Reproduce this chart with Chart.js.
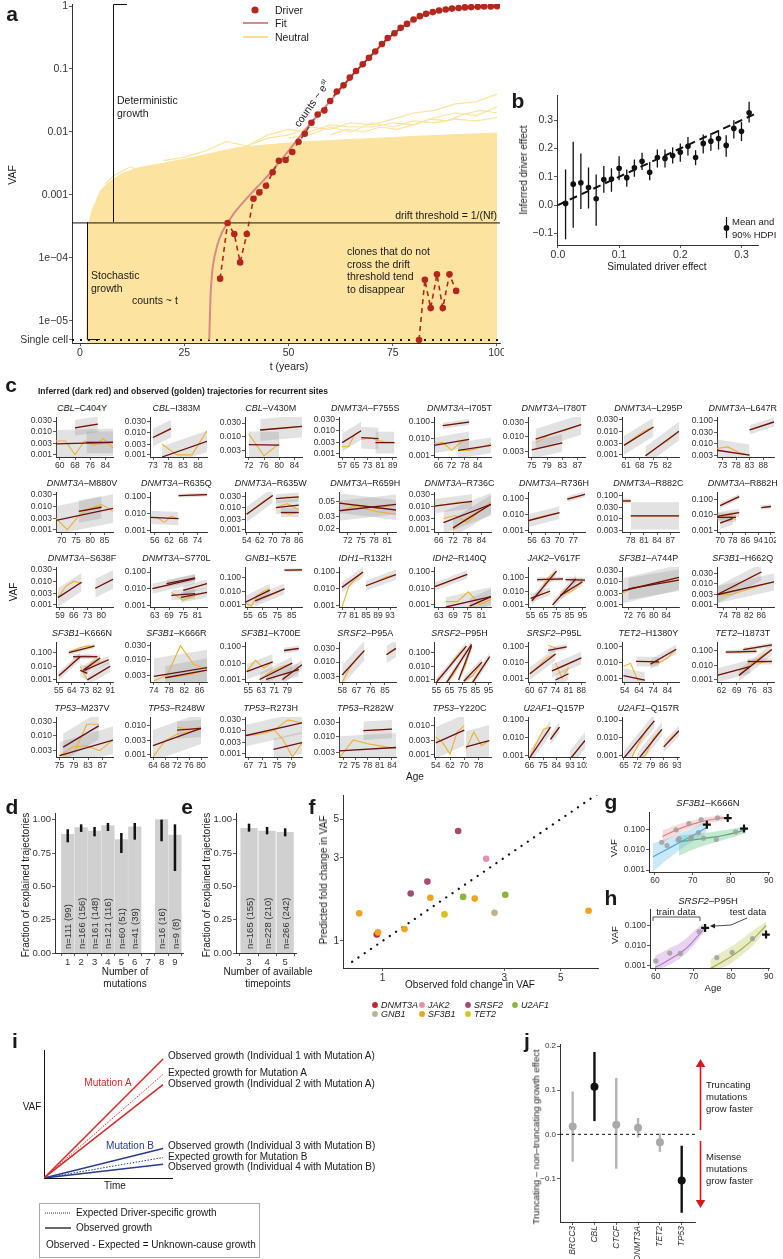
<!DOCTYPE html>
<html>
<head>
<meta charset="utf-8">
<script src="https://cdn.jsdelivr.net/npm/chart.js@4.4.1/dist/chart.umd.min.js"></script>
<style>
  body { margin: 0; width: 783px; height: 1259px; position: relative; overflow: hidden; background: #fff;
         font-family: "Liberation Sans", Arial, Helvetica, sans-serif; color: #1a1a1a; }
  canvas { position: absolute; }
  .t { position: absolute; white-space: nowrap; line-height: 1; }
</style>
</head>
<body>
<script>
const FONT = '"Liberation Sans", Arial, Helvetica, sans-serif';
Chart.defaults.font.family = FONT;
Chart.defaults.color = '#333';

// ---------- a: simulated trajectories ----------
const aTicks = [5e-6, 1e-5, 1e-4, 1e-3, 0.01, 0.1, 1];
const aTickLabels = ['Single cell', '1e\u221205', '1e\u221204', '0.001', '0.01', '0.1', '1'];
const aSingleCell = 5e-6;
const aDrift = 3.6e-4;
const aDriverT = [33.6, 35.4, 37.0, 38.4, 40.0, 41.6, 43.0, 44.6, 46.2, 47.7, 49.3, 50.9, 52.4, 53.9, 55.5, 57.0, 58.6, 60.0, 61.6, 63.2, 64.7, 66.2, 67.8, 69.3, 70.8, 72.4, 73.8, 75.4, 76.9, 78.4, 80.0, 81.5, 83.0, 84.6, 86.1, 87.7, 89.2, 90.8, 92.3, 93.8, 95.4, 96.9, 98.5, 100];
const aDriverV = [4.7e-5, 3.6e-4, 2.4e-4, 8.5e-5, 2.4e-4, 8.7e-4, 1.1e-3, 1.4e-3, 2.3e-3, 3.5e-3, 3.6e-3, 4.8e-3, 7e-3, 9.4e-3, 0.014, 0.019, 0.022, 0.031, 0.044, 0.055, 0.073, 0.093, 0.119, 0.151, 0.19, 0.25, 0.31, 0.37, 0.45, 0.52, 0.61, 0.69, 0.75, 0.80, 0.85, 0.88, 0.91, 0.93, 0.95, 0.96, 0.97, 0.98, 0.985, 0.99];
const aFitT = [31.0, 31.1, 31.3, 31.6, 32, 33, 34, 35.4, 37, 39, 41, 43, 45, 50, 55, 60, 65, 70, 75, 80, 85, 90, 95, 100];
const aFitV = [5e-6, 9e-6, 2.5e-5, 5e-5, 8.5e-5, 1.65e-4, 2.5e-4, 3.6e-4, 5.2e-4, 7.5e-4, 1.05e-3, 1.45e-3, 2.0e-3, 5e-3, 0.013, 0.031, 0.075, 0.17, 0.35, 0.6, 0.8, 0.91, 0.96, 0.985];
const aLostT = [81.3, 82.7, 84.1, 85.6, 87.0, 88.6, 90.2];
const aLostV = [5e-6, 4.5e-5, 1.6e-5, 5.5e-5, 1.6e-5, 5.5e-5, 3e-5];
const aNeutT = [1.6, 1.8, 3, 5, 7, 10, 14, 19, 24, 29, 34, 38, 43, 48, 53, 58, 63, 67, 72, 77, 82, 87, 92, 96, 100];
const aNeutV = [5e-6, 3.0e-4, 6e-4, 1.2e-3, 1.6e-3, 2.2e-3, 2.7e-3, 3.1e-3, 3.6e-3, 4.2e-3, 5e-3, 5.7e-3, 6.1e-3, 6.5e-3, 6.9e-3, 7.2e-3, 7.5e-3, 7.7e-3, 8.0e-3, 8.3e-3, 8.6e-3, 8.9e-3, 9.2e-3, 9.4e-3, 9.6e-3];
const aNeutLineT = [
  [40, 45, 50, 55, 60, 65, 70, 75, 80, 85, 90, 95, 100],
  [20, 25, 30, 35, 40, 45, 50, 55, 60, 65, 70, 75, 80, 85, 90, 95, 100],
  [50, 55, 60, 65, 70, 75, 80, 85, 90, 95, 100],
  [6, 8, 12, 16, 20, 24, 28, 32, 36],
  [60, 64, 68, 72, 76, 80, 84, 88, 92, 96, 100]
];
const aNeutLineV = [
  [0.006, 0.008, 0.009, 0.012, 0.011, 0.014, 0.013, 0.016, 0.02, 0.022, 0.028, 0.03, 0.04],
  [0.0035, 0.004, 0.005, 0.007, 0.006, 0.009, 0.011, 0.010, 0.013, 0.012, 0.012, 0.014, 0.013, 0.017, 0.02, 0.018, 0.025],
  [0.008, 0.009, 0.012, 0.010, 0.014, 0.012, 0.015, 0.014, 0.016, 0.015, 0.017],
  [0.0015, 0.002, 0.0028, 0.0022, 0.003, 0.0035, 0.0031, 0.004, 0.0045],
  [0.009, 0.011, 0.01, 0.012, 0.011, 0.013, 0.016, 0.015, 0.019, 0.022, 0.02]
];

// ---------- b: simulated vs inferred effect ----------
const bSim = [0.0125, 0.025, 0.0375, 0.05, 0.0625, 0.075, 0.0875, 0.1, 0.1125, 0.125, 0.1375, 0.15, 0.1625, 0.175, 0.1875, 0.2, 0.2125, 0.225, 0.2375, 0.25, 0.2625, 0.275, 0.2875, 0.3, 0.3125];
const bMean = [0.006, 0.074, 0.079, 0.062, 0.022, 0.09, 0.092, 0.13, 0.097, 0.132, 0.155, 0.116, 0.168, 0.165, 0.175, 0.187, 0.208, 0.168, 0.218, 0.226, 0.235, 0.211, 0.271, 0.261, 0.326];
const bLo = [-0.121, -0.08, -0.014, -0.012, -0.073, 0.044, 0.047, 0.088, 0.065, 0.1, 0.124, 0.088, 0.133, 0.133, 0.147, 0.153, 0.175, 0.141, 0.182, 0.192, 0.196, 0.171, 0.235, 0.226, 0.292];
const bHi = [0.126, 0.224, 0.182, 0.133, 0.108, 0.138, 0.13, 0.173, 0.126, 0.161, 0.185, 0.152, 0.196, 0.196, 0.204, 0.218, 0.241, 0.194, 0.249, 0.255, 0.265, 0.247, 0.3, 0.294, 0.365];

// ---------- c: recurrent sites ----------
const siteGene = ['CBL', 'CBL', 'CBL', 'DNMT3A', 'DNMT3A', 'DNMT3A', 'DNMT3A', 'DNMT3A',
  'DNMT3A', 'DNMT3A', 'DNMT3A', 'DNMT3A', 'DNMT3A', 'DNMT3A', 'DNMT3A', 'DNMT3A',
  'DNMT3A', 'DNMT3A', 'GNB1', 'IDH1', 'IDH2', 'JAK2', 'SF3B1', 'SF3B1',
  'SF3B1', 'SF3B1', 'SF3B1', 'SRSF2', 'SRSF2', 'SRSF2', 'TET2', 'TET2',
  'TP53', 'TP53', 'TP53', 'TP53', 'TP53', 'U2AF1', 'U2AF1'];
const siteMut = ['C404Y', 'I383M', 'V430M', 'F755S', 'I705T', 'I780T', 'L295P', 'L647R',
  'M880V', 'R635Q', 'R635W', 'R659H', 'R736C', 'R736H', 'R882C', 'R882H',
  'S638F', 'S770L', 'K57E', 'R132H', 'R140Q', 'V617F', 'A744P', 'H662Q',
  'K666N', 'K666R', 'K700E', 'P95A', 'P95H', 'P95L', 'H1380Y', 'I1873T',
  'M237V', 'R248W', 'R273H', 'R282W', 'Y220C', 'Q157P', 'Q157R'];
const siteXr = [[58, 88], [72, 91], [71, 86], [55, 91], [64, 90], [74, 89], [59, 88], [71, 92],
  [68, 88], [54, 78], [53, 88], [70, 83], [64, 88], [54, 83], [76, 89], [68, 104],
  [57, 86], [61, 85], [53, 92], [76, 95], [61, 85], [53, 97], [70, 88], [72, 90],
  [53, 93], [73, 88], [53, 88], [56, 92], [53, 97], [59, 90], [52, 92], [60, 86],
  [74, 90], [63, 82], [66, 82], [71, 85], [53, 85], [65, 103], [64, 94]];
const siteXt = [[60, 68, 76, 84], [73, 78, 83, 88], [72, 76, 80, 84], [57, 65, 73, 81, 89], [66, 72, 78, 84], [75, 79, 83, 87], [61, 68, 75, 82], [73, 78, 83, 88],
  [70, 75, 80, 85], [56, 62, 68, 74], [54, 62, 70, 78, 86], [72, 75, 78, 81], [66, 72, 78, 84], [56, 63, 70, 77], [78, 81, 84, 87], [70, 78, 86, 94, 102],
  [59, 66, 73, 80], [63, 69, 75, 81], [55, 65, 75, 85], [77, 81, 85, 89, 93], [63, 69, 75, 81], [55, 65, 75, 85, 95], [72, 76, 80, 84], [74, 78, 82, 86],
  [55, 64, 73, 82, 91], [74, 78, 82, 86], [55, 63, 71, 79], [58, 67, 76, 85], [55, 65, 75, 85, 95], [60, 67, 74, 81, 88], [54, 64, 74, 84], [62, 69, 76, 83],
  [75, 79, 83, 87], [64, 68, 72, 76, 80], [67, 71, 75, 79], [72, 75, 78, 81, 84], [54, 62, 70, 78], [66, 75, 84, 93, 102], [65, 72, 79, 86, 93]];
const Y4 = [0.001, 0.003, 0.01, 0.03], Y3 = [0.001, 0.01, 0.1], Y3b = [0.003, 0.01, 0.03];
const siteYr = [[0.0008, 0.045], [0.0008, 0.05], [0.0018, 0.05], [0.0007, 0.04], [0.0008, 0.2], [0.002, 0.045], [0.0008, 0.04], [0.0025, 0.15],
  [0.0008, 0.04], [0.0008, 0.2], [0.0008, 0.05], [0.018, 0.07], [0.0008, 0.04], [0.0008, 0.25], [0.0025, 0.15], [0.0008, 0.3],
  [0.0008, 0.04], [0.0008, 0.2], [0.0007, 0.6], [0.0008, 0.2], [0.0007, 0.2], [0.0007, 0.6], [0.0008, 0.045], [0.0008, 0.06],
  [0.0007, 0.6], [0.0018, 0.04], [0.0007, 0.2], [0.002, 0.05], [0.0007, 0.6], [0.0006, 0.2], [0.0006, 0.2], [0.0007, 0.4],
  [0.0018, 0.045], [0.0008, 0.02], [0.0007, 0.04], [0.0022, 0.045], [0.0008, 0.02], [0.0008, 0.15], [0.0008, 0.15]];
const siteYt = [Y4, Y4, Y3b, Y4, Y3, Y3b, Y4, [0.003, 0.01, 0.03, 0.1],
  Y4, Y3, Y4, [0.02, 0.03, 0.05], Y4, Y3, [0.003, 0.01, 0.03, 0.1], Y3,
  Y4, Y3, Y3, Y3, Y3, Y3, Y4, Y4,
  Y3, Y3b, Y3, Y3b, Y3, Y3, Y3, Y3,
  Y3b, [0.001, 0.003, 0.01], Y4, Y3b, [0.001, 0.003, 0.01], Y3, Y3];
// each trajectory: [first age, last age, observed VAFs, inferred start, inferred end, band factor]
const siteTraj = [
  [[68, 80, [0.015, 0.019, 0.022], 0.015, 0.022, 2.2], [58, 88, [0.004, 0.004, 0.001, 0.004, 0.0025, 0.005, 0.002], 0.003, 0.0035, 4], [74, 88, [0.0035, 0.003, 0.0035], 0.0035, 0.0035, 3]],
  [[73, 79, [0.006, 0.009, 0.015], 0.006, 0.015, 2.5], [76, 91, [0.003, 0.001, 0.001, 0.012], 0.0008, 0.004, 3]],
  [[72, 80, [0.012, 0.002, 0.0055], 0.005, 0.0048, 3], [75, 86, [0.017, 0.019, 0.023], 0.017, 0.023, 2.5]],
  [[57, 69, [0.002, 0.002, 0.007, 0.01], 0.003, 0.01, 2.5], [69, 80, [0.004, 0.005, 0.0035], 0.005, 0.0045, 3], [78, 90, [0.004, 0.0032, 0.003], 0.003, 0.003, 3]],
  [[68, 80, [0.06, 0.07, 0.09, 0.1], 0.06, 0.1, 1.5], [64, 80, [0.005, 0.006, 0.002, 0.006, 0.009], 0.004, 0.009, 3], [75, 90, [0.002, 0.002, 0.003, 0.005], 0.002, 0.004, 3]],
  [[76, 88, [0.006, 0.012, 0.016, 0.025], 0.008, 0.025, 2.2], [75, 83, [0.0035, 0.0045, 0.006], 0.0035, 0.006, 2]],
  [[60, 75, [0.0025, 0.005, 0.01, 0.015], 0.0025, 0.015, 2.5], [71, 88, [0.0009, 0.002, 0.004, 0.01], 0.0009, 0.01, 2.5]],
  [[71, 83, [0.006, 0.007, 0.004, 0.003], 0.005, 0.003, 3], [83, 92, [0.04, 0.05, 0.07, 0.09], 0.04, 0.09, 1.6]],
  [[68, 88, [0.003, 0.001, 0.004, 0.008, 0.012, 0.006], 0.0025, 0.008, 4], [76, 84, [0.006, 0.008, 0.01], 0.006, 0.009, 3]],
  [[66, 78, [0.12, 0.13, 0.14], 0.12, 0.14, 1.3], [54, 66, [0.006, 0.006, 0.003, 0.007, 0.005], 0.006, 0.005, 2.5]],
  [[54, 70, [0.005, 0.01, 0.02, 0.035], 0.005, 0.035, 2.2], [72, 86, [0.025, 0.03, 0.028], 0.025, 0.03, 1.6], [72, 86, [0.01, 0.015, 0.008], 0.01, 0.013, 2], [75, 86, [0.006, 0.005, 0.006], 0.006, 0.006, 1.6]],
  [[70, 83, [0.036, 0.045, 0.04, 0.046], 0.037, 0.046, 1.4], [70, 83, [0.05, 0.042, 0.036, 0.033], 0.048, 0.038, 1.4]],
  [[64, 80, [0.01, 0.012, 0.015, 0.015], 0.01, 0.016, 2], [68, 88, [0.003, 0.004, 0.002, 0.006, 0.015], 0.002, 0.012, 3], [72, 88, [0.001, 0.003, 0.006, 0.012], 0.0012, 0.012, 2.5]],
  [[54, 70, [0.004, 0.006, 0.008, 0.01, 0.012], 0.004, 0.013, 2.5], [74, 83, [0.09, 0.12, 0.18], 0.09, 0.18, 1.5]],
  [[76, 78, [0.06, 0.06], 0.06, 0.06, 1.3], [78, 89, [0.013, 0.013, 0.013], 0.013, 0.013, 4]],
  [[70, 82, [0.04, 0.08, 0.15], 0.04, 0.15, 1.5], [96, 102, [0.03, 0.035], 0.03, 0.035, 1.4], [68, 82, [0.008, 0.012, 0.015], 0.008, 0.014, 1.8], [68, 80, [0.006, 0.01, 0.005], 0.007, 0.007, 2], [70, 78, [0.003, 0.006], 0.003, 0.006, 2.5]],
  [[58, 70, [0.002, 0.006, 0.01, 0.008], 0.002, 0.009, 2.5], [77, 86, [0.005, 0.008, 0.012], 0.005, 0.012, 2.5]],
  [[62, 80, [0.01, 0.015, 0.03, 0.04], 0.01, 0.04, 2], [68, 80, [0.02, 0.03, 0.045], 0.02, 0.045, 1.6], [75, 85, [0.008, 0.012, 0.02], 0.008, 0.02, 1.8], [74, 85, [0.003, 0.004, 0.006], 0.003, 0.006, 2], [70, 80, [0.006, 0.002, 0.004], 0.004, 0.005, 2]],
  [[80, 92, [0.35, 0.35, 0.37], 0.35, 0.37, 1.3], [53, 70, [0.0015, 0.0008, 0.005, 0.01, 0.015], 0.0015, 0.012, 3], [60, 80, [0.002, 0.004, 0.005, 0.008, 0.015], 0.002, 0.015, 2.5]],
  [[77, 84, [0.0008, 0.015, 0.04, 0.1], 0.012, 0.1, 2], [85, 95, [0.015, 0.025, 0.05, 0.07], 0.015, 0.07, 2]],
  [[61, 75, [0.012, 0.02, 0.04, 0.07], 0.012, 0.07, 1.8], [66, 85, [0.0015, 0.0015, 0.006, 0.001, 0.002], 0.0007, 0.003, 4], [76, 85, [0.0008, 0.003], 0.0008, 0.003, 3]],
  [[56, 75, [0.002, 0.01, 0.1, 0.3], 0.002, 0.3, 2], [60, 80, [0.07, 0.07, 0.08], 0.07, 0.08, 1.5], [55, 70, [0.003, 0.006, 0.01], 0.003, 0.01, 2], [72, 90, [0.001, 0.01, 0.08], 0.001, 0.08, 2], [78, 95, [0.005, 0.01, 0.05], 0.005, 0.05, 2], [82, 97, [0.07, 0.08, 0.06], 0.07, 0.065, 1.5]],
  [[70, 88, [0.003, 0.006, 0.007, 0.009, 0.012, 0.016], 0.004, 0.016, 3.5], [72, 88, [0.005, 0.007, 0.01, 0.012], 0.005, 0.012, 3]],
  [[72, 86, [0.003, 0.004, 0.01, 0.02, 0.035], 0.003, 0.035, 2.5], [72, 90, [0.003, 0.003, 0.005, 0.008, 0.012], 0.003, 0.012, 2.5]],
  [[55, 70, [0.002, 0.006, 0.02, 0.05], 0.002, 0.05, 2], [62, 80, [0.1, 0.2, 0.3, 0.3], 0.1, 0.3, 1.5], [65, 82, [0.05, 0.06, 0.05], 0.05, 0.05, 1.5], [73, 90, [0.005, 0.01, 0.02, 0.03], 0.005, 0.03, 2], [72, 84, [0.003, 0.02, 0.04], 0.005, 0.04, 2], [75, 91, [0.001, 0.003, 0.01], 0.001, 0.01, 2.5], [70, 75, [0.01, 0.001], 0.005, 0.003, 3]],
  [[74, 88, [0.002, 0.003, 0.03, 0.007, 0.005], 0.0028, 0.0055, 4], [77, 88, [0.0025, 0.003, 0.0045], 0.0025, 0.0045, 2.5]],
  [[54, 70, [0.003, 0.015, 0.005, 0.012], 0.003, 0.012, 3], [77, 86, [0.06, 0.07, 0.08], 0.06, 0.08, 1.5], [62, 82, [0.001, 0.003, 0.006, 0.01], 0.001, 0.01, 2.5], [66, 86, [0.001, 0.002, 0.004], 0.001, 0.004, 2.5], [76, 88, [0.001, 0.003, 0.008], 0.001, 0.008, 2]],
  [[58, 72, [0.002, 0.006, 0.014, 0.025], 0.0035, 0.025, 2.2], [86, 92, [0.018, 0.025, 0.03], 0.018, 0.03, 2]],
  [[55, 78, [0.001, 0.005, 0.05, 0.3], 0.0007, 0.3, 2], [62, 82, [0.0005, 0.003, 0.05, 0.4], 0.0005, 0.4, 2], [72, 82, [0.001, 0.01, 0.3], 0.001, 0.3, 2], [76, 90, [0.0008, 0.002, 0.02], 0.0008, 0.02, 2], [82, 96, [0.0005, 0.005, 0.05], 0.0005, 0.05, 2]],
  [[60, 74, [0.002, 0.006, 0.02, 0.035], 0.002, 0.035, 2.5], [70, 80, [0.12, 0.08, 0.09], 0.06, 0.1, 1.5], [72, 88, [0.003, 0.005, 0.01, 0.02], 0.003, 0.02, 2.5], [74, 81, [0.01, 0.001, 0.005], 0.0008, 0.002, 2.5]],
  [[53, 68, [0.006, 0.009, 0.0008, 0.0008], 0.0015, 0.0008, 3], [62, 78, [0.012, 0.012, 0.011], 0.012, 0.011, 2], [72, 90, [0.008, 0.01, 0.02, 0.07], 0.008, 0.07, 2]],
  [[64, 78, [0.08, 0.08, 0.1], 0.08, 0.09, 1.4], [72, 85, [0.12, 0.17, 0.25], 0.12, 0.25, 1.4], [60, 75, [0.002, 0.004, 0.008], 0.002, 0.008, 3], [70, 85, [0.002, 0.01, 0.04, 0.12], 0.002, 0.12, 2.5], [74, 85, [0.02, 0.015, 0.02], 0.018, 0.018, 1.6]],
  [[76, 86, [0.002, 0.003, 0.025, 0.025], 0.004, 0.022, 3], [75, 90, [0.002, 0.004, 0.0045, 0.003, 0.007], 0.002, 0.007, 3]],
  [[64, 80, [0.0008, 0.003, 0.005, 0.006, 0.0075], 0.002, 0.008, 3.5], [72, 80, [0.009, 0.007, 0.009], 0.007, 0.008, 2]],
  [[66, 82, [0.006, 0.007, 0.01, 0.03, 0.022], 0.006, 0.022, 3], [74, 82, [0.012, 0.004, 0.0007, 0.003], 0.0015, 0.003, 3]],
  [[77, 84, [0.016, 0.017, 0.018], 0.016, 0.018, 2], [71, 85, [0.002, 0.008, 0.006, 0.005, 0.004], 0.0035, 0.0045, 3]],
  [[54, 70, [0.004, 0.0025, 0.001, 0.006, 0.01], 0.0025, 0.007, 3.5], [71, 84, [0.0015, 0.006, 0.002, 0.003], 0.0018, 0.003, 3.5]],
  [[66, 80, [0.0007, 0.005, 0.03, 0.04], 0.0007, 0.04, 2.5], [80, 86, [0.008, 0.02, 0.04], 0.008, 0.04, 2], [93, 103, [0.0006, 0.002, 0.007], 0.0006, 0.007, 3]],
  [[65, 81, [0.0007, 0.0007, 0.005, 0.03, 0.09], 0.0007, 0.09, 2.5], [72, 85, [0.0005, 0.001, 0.01, 0.03], 0.0005, 0.03, 2.5], [86, 94, [0.003, 0.01, 0.025], 0.003, 0.025, 2]]
];

// ---------- d, e: explained trajectories ----------
const dMuts = [1, 2, 3, 4, 5, 6, 8, 9];
const dFrac = [0.89, 0.94, 0.915, 0.955, 0.85, 0.947, 1.0, 0.885];
const dLo = [0.83, 0.908, 0.875, 0.915, 0.75, 0.85, 0.838, 0.615];
const dHi = [0.928, 0.965, 0.945, 0.975, 0.9, 0.975, 1.0, 0.965];
const dLabel = ['n=111 (99)', 'n=166 (156)', 'n=161 (148)', 'n=121 (116)', 'n=60 (51)', 'n=41 (39)', 'n=16 (16)', 'n=9 (8)'];
const eTimepoints = [3, 4, 5];
const eFrac = [0.935, 0.915, 0.905];
const eLo = [0.91, 0.89, 0.875];
const eHi = [0.97, 0.945, 0.935];
const eLabel = ['n=165 (155)', 'n=228 (210)', 'n=266 (242)'];

// ---------- f: fold change ----------
const fObs = [0.95, 0.96, 0.81, 1.22, 1.29, 1.5, 1.54, 1.98, 2.07, 2.3, 2.55, 3.03, 6.43, 1.75, 2.75];
const fPred = [1.09, 1.12, 1.44, 1.17, 1.87, 2.19, 1.77, 4.27, 1.79, 1.75, 2.96, 1.84, 1.49, 1.42, 1.45];
const fGene = ['DNMT3A', 'SF3B1', 'SF3B1', 'SF3B1', 'SRSF2', 'SRSF2', 'SF3B1', 'SRSF2', 'U2AF1', 'SF3B1', 'JAK2', 'U2AF1', 'SF3B1', 'TET2', 'GNB1'];
const fColors = { DNMT3A: '#C1272D', JAK2: '#E98FB0', SRSF2: '#A84A6E', U2AF1: '#8CB43C', GNB1: '#BFB38F', SF3B1: '#F2A31B', TET2: '#D9C31F' };

// ---------- g: SF3B1-K666N ----------
const gPinkT = [62, 66, 70, 74, 78], gPinkFit = [0.045, 0.1, 0.18, 0.28, 0.38], gPinkHi = [0.09, 0.17, 0.28, 0.4, 0.5], gPinkLo = [0.022, 0.06, 0.12, 0.2, 0.28];
const gBlueT = [59.5, 63, 66, 69, 72, 73.5], gBlueFit = [0.0045, 0.01, 0.02, 0.04, 0.08, 0.12], gBlueHi = [0.02, 0.035, 0.06, 0.1, 0.18, 0.22], gBlueLo = [0.0008, 0.003, 0.008, 0.02, 0.045, 0.07];
const gGreenT = [66.3, 70, 74, 78, 82, 84], gGreenFit = [0.025, 0.03, 0.038, 0.05, 0.075, 0.1], gGreenHi = [0.05, 0.06, 0.07, 0.09, 0.12, 0.14], gGreenLo = [0.005, 0.01, 0.018, 0.03, 0.05, 0.07];
const gObsT = [65.6, 69, 72.2, 76.5, 61.8, 63.2, 66.1, 69.4, 71.5, 66.4, 69.6, 72.8, 76.2, 81.3];
const gObsV = [0.095, 0.19, 0.3, 0.37, 0.023, 0.016, 0.03, 0.035, 0.07, 0.035, 0.04, 0.037, 0.032, 0.075];
const gTestT = [79.2, 73.7, 83.5], gTestV = [0.36, 0.17, 0.11];

// ---------- h: SRSF2-P95H ----------
const hPurpT = [59.8, 62, 64, 66, 68, 70, 72, 73.2], hPurpFit = [0.0008, 0.0013, 0.0022, 0.0038, 0.007, 0.017, 0.045, 0.085];
const hPurpHi = [0.003, 0.005, 0.008, 0.012, 0.022, 0.05, 0.1, 0.13], hPurpLo = [0.0006, 0.0008, 0.0012, 0.002, 0.004, 0.01, 0.03, 0.06];
const hOlivT = [74.5, 77, 80, 83, 86, 89.3], hOlivFit = [0.0007, 0.0013, 0.0028, 0.007, 0.022, 0.1];
const hOlivHi = [0.002, 0.004, 0.009, 0.022, 0.06, 0.15], hOlivLo = [0.0006, 0.0007, 0.0013, 0.0035, 0.011, 0.06];
const hObsT = [60, 63.7, 66.5, 71.5, 76.2, 80.3, 85.7], hObsV = [0.0017, 0.0042, 0.004, 0.05, 0.0025, 0.0045, 0.022];
const hTestT = [73.1, 89.3], hTestV = [0.075, 0.035];

// ---------- i: schematic ----------
const iEnd = 0.93;
const iVals = [0.93, 0.81, 0.73, 0.23, 0.16, 0.107];
const iKind = ['obs', 'exp', 'obs', 'obs', 'exp', 'obs'];
const iMutation = ['A', 'A', 'A', 'B', 'B', 'B'];
const iLabels = ['Observed growth (Individual 1 with Mutation A)', 'Expected growth for Mutation A', 'Observed growth (Individual 2 with Mutation A)',
  'Observed growth (Individual 3 with Mutation B)', 'Expected growth for Mutation B', 'Observed growth (Individual 4 with Mutation B)'];

// ---------- j: truncating vs non-truncating ----------
const jGene = ['BRCC3', 'CBL', 'CTCF', 'DNMT3A', 'TET2', 'TP53'];
const jMean = [0.018, 0.108, 0.022, 0.015, -0.018, -0.105];
const jLo = [-0.062, 0.03, -0.078, -0.007, -0.04, -0.178];
const jHi = [0.097, 0.187, 0.128, 0.037, 0.002, -0.026];

// ======================================================================
const RED = '#B5271C', GOLD = '#EFB22E', DARKRED = '#6B0F1A', YEL = '#FDE3A0';
const pts = (xs, ys) => xs.map((x, i) => ({ x, y: ys[i] }));

function sc(type, min, max, ticks, labels, size, tickExtra) {
  const s = {
    type, min, max, offset: false,
    afterBuildTicks: sc => { sc.ticks = ticks.map(v => ({ value: v })); },
    ticks: { font: { size }, color: '#333', padding: 1, autoSkip: false, maxRotation: 0, minRotation: 0,
      callback: (v, i) => labels ? labels[i] : v },
    grid: { drawOnChartArea: false, tickLength: 3, color: '#333', lineWidth: 0.8 },
    border: { color: '#333', width: 1 }
  };
  if (tickExtra) Object.assign(s.ticks, tickExtra);
  return s;
}

function plot(L, T, R, B, mL, mB, datasets, xs, ys, mT, mR, type, plugins) {
  mT = mT == null ? 4 : mT; mR = mR == null ? 4 : mR;
  const cv = document.createElement('canvas');
  const w = Math.round(R - L + mL + mR), h = Math.round(B - T + mT + mB);
  cv.width = w; cv.height = h;
  Object.assign(cv.style, { left: (L - mL) + 'px', top: (T - mT) + 'px', width: w + 'px', height: h + 'px' });
  document.body.appendChild(cv);
  xs.afterFit = s => { s.height = mB; s.paddingLeft = 0; s.paddingRight = 0; };
  ys.afterFit = s => { s.width = mL; s.paddingTop = 0; s.paddingBottom = 0; };
  return new Chart(cv, {
    type: type || 'scatter',
    data: { datasets },
    options: {
      responsive: false, animation: false, devicePixelRatio: 1, events: [],
      layout: { padding: { left: 0, top: mT, right: mR, bottom: 0 } },
      scales: { x: xs, y: ys },
      plugins: { legend: { display: false }, tooltip: { enabled: false } }
    },
    plugins: plugins || []
  });
}

function errBars(xv, lo, hi, color, width, under) {
  const draw = c => {
    const X = c.scales.x, Y = c.scales.y, g = c.ctx;
    g.save(); g.lineWidth = width;
    xv.forEach((x, i) => {
      g.strokeStyle = typeof color === 'function' ? color(i) : color;
      g.beginPath();
      g.moveTo(X.getPixelForValue(x), Y.getPixelForValue(lo[i]));
      g.lineTo(X.getPixelForValue(x), Y.getPixelForValue(hi[i]));
      g.stroke();
    });
    g.restore();
  };
  return under ? { id: 'errU', beforeDatasetsDraw: draw } : { id: 'errO', afterDatasetsDraw: draw };
}

function txt(x, y, html, o) {
  o = o || {};
  const d = document.createElement('div');
  d.className = 't';
  d.innerHTML = html;
  const s = d.style;
  s.left = x + 'px'; s.top = y + 'px';
  s.fontSize = (o.size || 10) + 'px';
  if (o.color) s.color = o.color;
  if (o.bold) s.fontWeight = 'bold';
  if (o.italic) s.fontStyle = 'italic';
  if (o.up) {
    s.transformOrigin = '0 50%';
    s.transform = 'translate(0,-50%) rotate(-90deg)';
  } else {
    const ax = o.align === 'left' ? '0' : o.align === 'right' ? '-100%' : '-50%';
    s.transform = `translate(${ax},-50%)` + (o.rot ? ` rotate(${o.rot}deg)` : '');
  }
  document.body.appendChild(d);
}

// ---------- a ----------
{
  const xmin = -1.92, xmax = 100.72;
  const ds = [];
  ds.push({ data: pts(aDriverT, aDriverV), borderColor: RED, borderDash: [5, 4], borderWidth: 1.6, pointRadius: 3.3, pointBackgroundColor: RED, pointBorderWidth: 0, order: 0 });
  ds.push({ data: pts(aLostT, aLostV), borderColor: RED, borderDash: [5, 4], borderWidth: 1.6, pointRadius: 3.3, pointBackgroundColor: RED, pointBorderWidth: 0, order: 0 });
  ds.push({ data: pts(aFitT, aFitV), borderColor: '#D98A86', borderWidth: 2, pointRadius: 0, cubicInterpolationMode: 'monotone', order: 1 });
  ds.push({ data: [{ x: xmin, y: aDrift }, { x: xmax, y: aDrift }], borderColor: '#111', borderWidth: 1, pointRadius: 0, order: 2 });
  ds.push({ data: [{ x: xmin, y: aSingleCell }, { x: xmax, y: aSingleCell }], borderColor: '#111', borderWidth: 2, borderDash: [2, 6], pointRadius: 0, order: 2 });
  aNeutLineT.forEach((t, k) => ds.push({ data: pts(t, aNeutLineV[k]), borderColor: YEL, borderWidth: 1.2, pointRadius: 0, order: 3 }));
  ds.push({ data: pts(aNeutT, aNeutV), borderColor: YEL, borderWidth: 1, backgroundColor: YEL, fill: 'start', pointRadius: 0, order: 4 });
  ds.forEach(d => d.showLine = true);
  plot(72, 3, 500, 343, 70, 22, ds,
    sc('linear', xmin, xmax, [0, 25, 50, 75, 100], null, 10.5),
    sc('logarithmic', 4.47e-6, 1.076, aTicks, aTickLabels, 10.5), 3, 4);
}

// ---------- b ----------
{
  const ds = [
    { data: pts(bSim, bMean), pointRadius: 2.8, pointBackgroundColor: '#111', pointBorderWidth: 0, order: 0 },
    { data: [{ x: 0, y: 0 }, { x: 0.335, y: 0.335 }], showLine: true, borderColor: '#111', borderWidth: 2, borderDash: [8, 5], pointRadius: 0, order: 1 }
  ];
  plot(556.7, 95, 758, 245, 40, 17, ds,
    sc('linear', -0.0015, 0.327, [0, 0.1, 0.2, 0.3], ['0.0', '0.1', '0.2', '0.3'], 10.5),
    sc('linear', -0.141, 0.389, [-0.1, 0, 0.1, 0.2, 0.3], ['\u22120.1', '0.0', '0.1', '0.2', '0.3'], 10.5), 4, 4, 'scatter',
    [errBars(bSim, bLo, bHi, '#111', 1.3, true)]);
}

// ---------- c ----------
siteMut.forEach((mut, i) => {
  const col = i % 8, row = Math.floor(i / 8);
  const ax = 56 + 94.4 * col, ay = 457 + 75 * row;
  const yt = siteYt[i];
  const yLab = yt.map(v => v.toFixed(yt[0] >= 0.02 ? 2 : 3));
  const ds = [];
  siteTraj[i].forEach(([t0, t1, obs, a, b, k]) => {
    ds.push({ data: [{ x: t0, y: a * k }, { x: t1, y: b * k }], borderWidth: 0, order: 3 });
    ds.push({ data: [{ x: t0, y: a / k }, { x: t1, y: b / k }], borderWidth: 0, order: 3, fill: '-1', backgroundColor: 'rgba(140,140,140,0.25)' });
    ds.push({ data: obs.map((v, j) => ({ x: t0 + (t1 - t0) * j / (obs.length - 1), y: v })), borderColor: GOLD, borderWidth: 1.1, order: 2 });
    ds.push({ data: [{ x: t0, y: a }, { x: t1, y: b }], borderColor: DARKRED, borderWidth: 1.3, order: 1 });
  });
  ds.forEach(d => { d.showLine = true; d.pointRadius = 0; });
  plot(ax, ay - 40, ax + 57, ay, 38, 13, ds,
    sc('linear', siteXr[i][0], siteXr[i][1], siteXt[i], null, 8.5),
    sc('logarithmic', siteYr[i][0], siteYr[i][1], yt, yLab, 8.5), 2, 2);
  txt(ax + 26, ay - 49, `<i>${siteGene[i]}</i>\u2013${mut}`, { size: 9 });
});

// ---------- d ----------
plot(55, 813, 183, 953, 30, 16,
  [{ data: pts(dMuts, dFrac), backgroundColor: '#D0D0D0', barThickness: 12.5, grouped: false }],
  sc('linear', 0.05, 9.6, [1, 2, 3, 4, 5, 6, 7, 8, 9], null, 9.5),
  sc('linear', 0, 1.05, [0, 0.25, 0.5, 0.75, 1], ['0.00', '0.25', '0.50', '0.75', '1.00'], 9.5), 4, 4, 'bar',
  [errBars(dMuts, dLo, dHi, '#111', 2.5, false)]);
dMuts.forEach((m, k) => txt(67.7 + 13.42 * (m - 1) + 0.5, 949, dLabel[k], { size: 9.5, up: true, color: '#333' }));

// ---------- e ----------
plot(236, 813, 296, 953, 30, 16,
  [{ data: pts(eTimepoints, eFrac), backgroundColor: '#D0D0D0', barThickness: 16.5, grouped: false }],
  sc('linear', 2.28, 5.6, [3, 4, 5], null, 9.5),
  sc('linear', 0, 1.05, [0, 0.25, 0.5, 0.75, 1], ['0.00', '0.25', '0.50', '0.75', '1.00'], 9.5), 4, 4, 'bar',
  [errBars(eTimepoints, eLo, eHi, '#111', 2.5, false)]);
eTimepoints.forEach((m, k) => txt(249 + 18 * (m - 3) + 0.5, 949, eLabel[k], { size: 9.5, up: true, color: '#333' }));

// ---------- f ----------
plot(343, 795, 598, 968, 20, 16, [
  { data: pts(fObs, fPred), pointRadius: 3.3, pointBorderWidth: 0, pointBackgroundColor: fGene.map(gn => fColors[gn]), order: 0 },
  { data: [{ x: 0.76, y: 0.76 }, { x: 7.2, y: 7.2 }], showLine: true, pointRadius: 0, borderColor: '#111', borderWidth: 2.2, borderDash: [0.1, 7.5], borderCapStyle: 'round', order: 1 }
],
  sc('logarithmic', 0.733, 7.0, [1, 3, 5], ['1', '3', '5'], 10),
  sc('logarithmic', 0.733, 6.87, [1, 3, 5], ['1', '3', '5'], 10));

// ---------- g ----------
function bandSet(T, hi, lo, fit, fillCol, lineCol) {
  return [
    { data: pts(T, hi), showLine: true, borderWidth: 0, pointRadius: 0, tension: 0.4, order: 3 },
    { data: pts(T, lo), showLine: true, borderWidth: 0, pointRadius: 0, tension: 0.4, fill: '-1', backgroundColor: fillCol, order: 3 },
    { data: pts(T, fit), showLine: true, borderColor: lineCol, borderWidth: 1.2, pointRadius: 0, tension: 0.4, order: 2 }
  ];
}
plot(649, 810, 772, 872, 34, 15, [
  ...bandSet(gPinkT, gPinkHi, gPinkLo, gPinkFit, 'rgba(240,150,150,0.35)', '#E88080'),
  ...bandSet(gBlueT, gBlueHi, gBlueLo, gBlueFit, 'rgba(100,190,240,0.35)', '#4BA8D8'),
  ...bandSet(gGreenT, gGreenHi, gGreenLo, gGreenFit, 'rgba(90,190,120,0.35)', '#4DAA6A'),
  { data: pts(gObsT, gObsV), pointRadius: 2.6, pointBorderWidth: 0, pointBackgroundColor: 'rgba(160,160,160,0.85)', order: 1 },
  { data: pts(gTestT, gTestV), pointStyle: 'cross', pointRadius: 4, pointBorderWidth: 2.2, pointBorderColor: '#111', order: 0 }
],
  sc('linear', 58.45, 90.3, [60, 70, 80, 90], null, 8.5),
  sc('logarithmic', 0.0008, 0.7, [0.001, 0.01, 0.1], ['0.001', '0.010', '0.100'], 8.5));

// ---------- h ----------
plot(650, 907, 772, 968, 35, 15, [
  ...bandSet(hPurpT, hPurpHi, hPurpLo, hPurpFit, 'rgba(205,160,225,0.45)', '#B27CC8'),
  ...bandSet(hOlivT, hOlivHi, hOlivLo, hOlivFit, 'rgba(205,210,125,0.45)', '#A8AE50'),
  { data: pts(hObsT, hObsV), pointRadius: 2.6, pointBorderWidth: 0, pointBackgroundColor: 'rgba(160,160,160,0.85)', order: 1 },
  { data: pts(hTestT, hTestV), pointStyle: 'cross', pointRadius: 4, pointBorderWidth: 2.2, pointBorderColor: '#111', order: 0 }
],
  sc('linear', 58.45, 90.3, [60, 70, 80, 90], null, 8.5),
  sc('logarithmic', 0.00075, 0.65, [0.001, 0.01, 0.1], ['0.001', '0.010', '0.100'], 8.5));

// ---------- i ----------
{
  const ds = iVals.map((v, k) => ({
    data: [{ x: 0, y: 0 }, { x: iEnd, y: v }], showLine: true, pointRadius: 0,
    borderColor: iMutation[k] === 'A' ? '#D42A2A' : '#2B3990',
    borderWidth: iKind[k] === 'obs' ? 1.5 : 1, borderDash: iKind[k] === 'obs' ? [] : [1.5, 1.5]
  }));
  const ax = { type: 'linear', min: 0, max: 1, ticks: { display: false }, grid: { display: false }, border: { color: '#111', width: 1 } };
  plot(44, 1050, 172, 1178, 2, 2, ds, ax, Object.assign({}, ax), 2, 2);
}

// ---------- j ----------
{
  const sig = jMean.map((m, k) => jLo[k] > 0 || jHi[k] < 0);
  const jx = jGene.map((g, k) => k);
  plot(560, 1044, 695, 1222, 26, 40, [
    { data: pts(jx, jMean), pointRadius: 4, pointBorderWidth: 0, pointBackgroundColor: sig.map(s => s ? '#111' : '#A9A9A9') },
    { data: [{ x: -0.58, y: 0 }, { x: 5.61, y: 0 }], showLine: true, pointRadius: 0, borderColor: '#111', borderWidth: 1, borderDash: [3, 3] }
  ],
    sc('linear', -0.58, 5.61, jx, jGene, 8.5, { minRotation: 90, maxRotation: 90, font: { size: 8.5, style: 'italic' } }),
    sc('linear', -0.199, 0.205, [-0.1, 0, 0.1, 0.2], ['\u22120.1', '0.0', '0.1', '0.2'], 8), 4, 4, 'scatter',
    [errBars(jx, jLo, jHi, k => sig[k] ? '#111' : '#B5B5B5', 2.4, true)]);
}

// ---------- overlay decorations ----------
const ov = document.createElement('canvas');
ov.width = 783; ov.height = 1259;
Object.assign(ov.style, { left: '0px', top: '0px', width: '783px', height: '1259px' });
document.body.appendChild(ov);
const g = ov.getContext('2d');
function seg(p, color, w, dash) {
  g.save(); g.strokeStyle = color; g.lineWidth = w; g.setLineDash(dash || []);
  g.beginPath(); p.forEach(([x, y], k) => k ? g.lineTo(x, y) : g.moveTo(x, y)); g.stroke(); g.restore();
}
function dot(x, y, r, color) { g.fillStyle = color; g.beginPath(); g.arc(x, y, r, 0, Math.PI * 2); g.fill(); }
function head(x, y, dir, color, s) {
  g.fillStyle = color; g.beginPath();
  if (dir === 'up') { g.moveTo(x, y); g.lineTo(x - s * 0.6, y + s); g.lineTo(x + s * 0.6, y + s); }
  if (dir === 'down') { g.moveTo(x, y); g.lineTo(x - s * 0.6, y - s); g.lineTo(x + s * 0.6, y - s); }
  if (dir === 'left') { g.moveTo(x, y); g.lineTo(x + s, y - s * 0.5); g.lineTo(x + s, y + s * 0.5); }
  g.closePath(); g.fill();
}
// a brackets and legend
seg([[127, 4.5], [113.5, 4.5], [113.5, 222]], '#111', 1);
seg([[87.5, 222], [87.5, 339.5], [100, 339.5]], '#111', 1);
dot(255, 10, 3.6, RED);
seg([[243, 23], [268, 23]], '#D98A86', 2);
seg([[243, 37], [268, 37]], '#FCDC90', 2);
// b legend key
seg([[726.5, 217], [726.5, 238]], '#111', 1.2);
dot(726.5, 228, 2.9, '#111');
// f legend keys
[['DNMT3A', 375, 1005], ['JAK2', 422, 1005], ['SRSF2', 468, 1005], ['U2AF1', 515, 1005], ['GNB1', 375, 1014], ['SF3B1', 422, 1014], ['TET2', 468, 1014]]
  .forEach(([gn, x, y]) => { dot(x, y, 2.9, fColors[gn]); txt(x + 6, y, gn, { size: 9, italic: true, align: 'left' }); });
// h train/test annotation
seg([[653, 921], [653, 917], [700, 917], [700, 921]], '#555', 1);
seg([[747, 918], [731, 925], [715, 926]], '#222', 0.8);
head(710, 926, 'left', '#222', 5);
// i legend box
g.strokeStyle = '#AAAAAA'; g.lineWidth = 1; g.strokeRect(39.5, 1203.5, 220, 54);
seg([[45, 1213], [70, 1213]], '#333', 1, [1, 1]);
seg([[45, 1228], [71, 1228]], '#444', 1.6);
// j arrows
seg([[700.5, 1130], [700.5, 1066]], '#D7191C', 1.6);
head(700.5, 1059, 'up', '#D7191C', 8);
seg([[700.5, 1141], [700.5, 1201]], '#D7191C', 1.6);
head(700.5, 1208, 'down', '#D7191C', 8);

// ---------- text ----------
const P = 21;
txt(12, 13, 'a', { size: P, bold: true });
txt(12, 175, 'VAF', { size: 10.5, rot: -90 });
txt(289, 366, 't (years)', { size: 10.5 });
txt(117, 100, 'Deterministic', { size: 10.5, align: 'left' });
txt(117, 113, 'growth', { size: 10.5, align: 'left' });
txt(91, 275, 'Stochastic', { size: 10.5, align: 'left' });
txt(91, 288, 'growth', { size: 10.5, align: 'left' });
txt(132, 300, 'counts ~ t', { size: 10.5, align: 'left' });
txt(311, 103, 'counts ~ e<sup style="font-size:7px">st</sup>', { size: 10.5, rot: -55 });
['clones that do not', 'cross the drift', 'threshold tend', 'to disappear'].forEach((s, k) => txt(347, 251 + 12.7 * k, s, { size: 10.5, align: 'left' }));
txt(497, 215, 'drift threshold = 1/(Nf)', { size: 10.5, align: 'right' });
txt(275, 10, 'Driver', { size: 10.5, align: 'left' });
txt(275, 23, 'Fit', { size: 10.5, align: 'left' });
txt(275, 37, 'Neutral', { size: 10.5, align: 'left' });

txt(518, 100, 'b', { size: P, bold: true });
txt(524, 170, 'Inferred driver effect', { size: 10, rot: -90 });
txt(657, 267, 'Simulated driver effect', { size: 10 });
txt(732, 222, 'Mean and', { size: 9.5, align: 'left' });
txt(732, 235, '90% HDPI', { size: 9.5, align: 'left' });

txt(11, 384, 'c', { size: P, bold: true });
txt(38, 391, 'Inferred (dark red) and observed (golden) trajectories for recurrent sites', { size: 8.5, bold: true, align: 'left' });
txt(14, 592, 'VAF', { size: 10, rot: -90 });
txt(415, 777, 'Age', { size: 10 });

txt(12, 806, 'd', { size: P, bold: true });
txt(26, 885, 'Fraction of explained trajectories', { size: 10, rot: -90 });
txt(125, 972, 'Number of', { size: 10 });
txt(125, 984, 'mutations', { size: 10 });
txt(187, 806, 'e', { size: P, bold: true });
txt(207, 885, 'Fraction of explained trajectories', { size: 10, rot: -90 });
txt(268, 972, 'Number of available', { size: 10 });
txt(268, 984, 'timepoints', { size: 10 });

txt(312, 806, 'f', { size: P, bold: true });
txt(324, 880, 'Predicted fold change in VAF', { size: 10, rot: -90 });
txt(470, 985, 'Observed fold change in VAF', { size: 10 });

txt(611, 801, 'g', { size: P, bold: true });
txt(708, 803, '<i>SF3B1</i>\u2013K666N', { size: 9.5 });
txt(614, 848, 'VAF', { size: 9.5, rot: -90 });
txt(611, 897, 'h', { size: P, bold: true });
txt(708, 901, '<i>SRSF2</i>\u2013P95H', { size: 9.5 });
txt(615, 935, 'VAF', { size: 9.5, rot: -90 });
txt(713, 988, 'Age', { size: 9.5 });
txt(676, 912, 'train data', { size: 9.5 });
txt(748, 912, 'test data', { size: 9.5 });

txt(15, 1040, 'i', { size: P, bold: true });
txt(32, 1107, 'VAF', { size: 10 });
txt(115, 1186, 'Time', { size: 10 });
[1056, 1073, 1084, 1146, 1157, 1166.5].forEach((y, k) => txt(168, y, iLabels[k], { size: 10, align: 'left' }));
txt(108, 1083, 'Mutation A', { size: 10, color: '#D42A2A' });
txt(130, 1146, 'Mutation B', { size: 10, color: '#2B3990' });
txt(76, 1213, 'Expected Driver-specific growth', { size: 10, align: 'left' });
txt(76, 1228, 'Observed growth', { size: 10, align: 'left' });
txt(46, 1245, 'Observed - Expected = Unknown-cause growth', { size: 10, align: 'left' });

txt(527, 1040, 'j', { size: P, bold: true });
txt(536, 1137, 'Truncating \u2013 non\u2013truncating growth effect', { size: 9.5, rot: -90 });
['Truncating', 'mutations', 'grow faster'].forEach((s, k) => txt(706, 1085 + 11.8 * k, s, { size: 9.5, align: 'left' }));
['Misense', 'mutations', 'grow faster'].forEach((s, k) => txt(706, 1157 + 11.8 * k, s, { size: 9.5, align: 'left' }));
</script>
</body>
</html>
